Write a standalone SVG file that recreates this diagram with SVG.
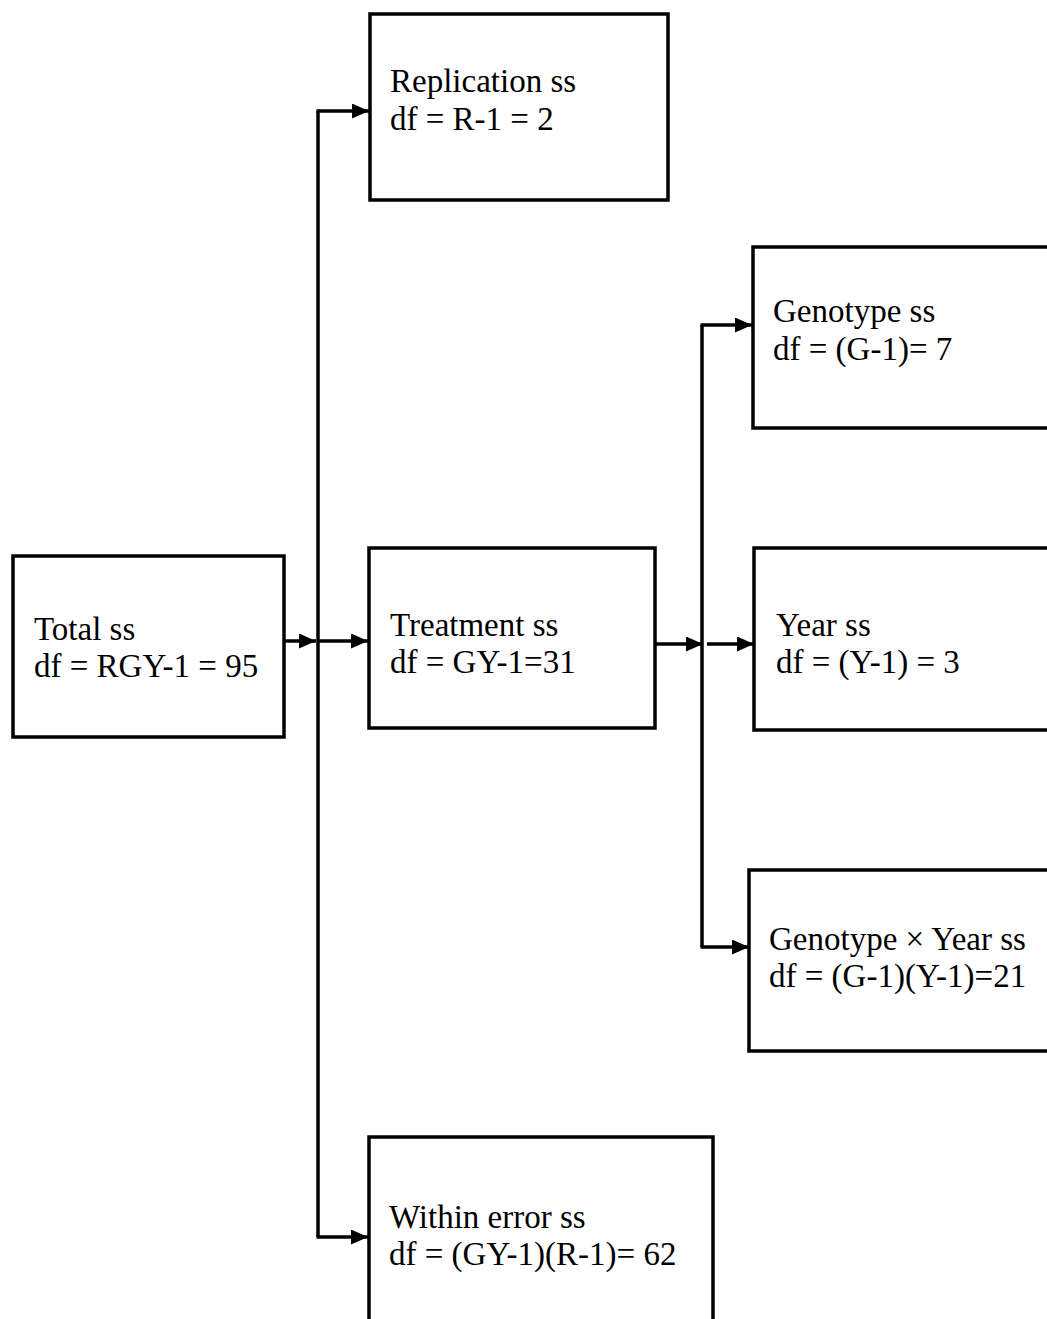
<svg xmlns="http://www.w3.org/2000/svg" width="1047" height="1319" viewBox="0 0 1047 1319">
<style>
.box{fill:#fff;stroke:#000;stroke-width:3.5}
.t{font-family:"Liberation Serif","Times New Roman",serif;font-size:33px;fill:#000}
.c{fill:none;stroke:#000;stroke-width:3.5}
</style>
<defs>
<marker id="ah" markerUnits="userSpaceOnUse" markerWidth="17" markerHeight="15" refX="17" refY="7.5" orient="auto">
<path d="M0,0 L17,7.5 L0,15 z" fill="#000"/>
</marker>
</defs>
<rect width="1047" height="1319" fill="#fff"/>
<g id="connectors">
<line class="c" x1="318" y1="111" x2="318" y2="1237"/>
<line class="c" x1="284" y1="641" x2="316" y2="641" marker-end="url(#ah)"/>
<line class="c" x1="316.5" y1="111" x2="369" y2="111" marker-end="url(#ah)"/>
<line class="c" x1="318" y1="641" x2="368" y2="641" marker-end="url(#ah)"/>
<line class="c" x1="316.5" y1="1237" x2="368" y2="1237" marker-end="url(#ah)"/>
<line class="c" x1="702" y1="325" x2="702" y2="947"/>
<line class="c" x1="655" y1="644" x2="703" y2="644" marker-end="url(#ah)"/>
<line class="c" x1="707" y1="644" x2="754" y2="644" marker-end="url(#ah)"/>
<line class="c" x1="700.5" y1="325" x2="752" y2="325" marker-end="url(#ah)"/>
<line class="c" x1="700.5" y1="947" x2="749" y2="947" marker-end="url(#ah)"/>
</g>
<g id="total">
<rect class="box" x="13" y="556" width="271" height="181"/>
<text class="t" x="34" y="640">Total ss</text>
<text class="t" x="34" y="677">df = RGY-1 = 95</text>
</g>
<g id="replication">
<rect class="box" x="370" y="14" width="298" height="186"/>
<text class="t" x="390" y="92">Replication ss</text>
<text class="t" x="390" y="130">df = R-1 = 2</text>
</g>
<g id="treatment">
<rect class="box" x="369" y="548" width="286" height="180"/>
<text class="t" x="390" y="636">Treatment ss</text>
<text class="t" x="390" y="673">df = GY-1=31</text>
</g>
<g id="within">
<rect class="box" x="369" y="1137" width="344" height="200"/>
<text class="t" x="389" y="1228">Within error ss</text>
<text class="t" x="389" y="1265">df = (GY-1)(R-1)= 62</text>
</g>
<g id="genotype">
<rect class="box" x="753" y="247" width="310" height="181"/>
<text class="t" x="773" y="322">Genotype ss</text>
<text class="t" x="773" y="360">df = (G-1)= 7</text>
</g>
<g id="year">
<rect class="box" x="754" y="548" width="310" height="182"/>
<text class="t" x="776" y="636">Year ss</text>
<text class="t" x="776" y="673">df = (Y-1) = 3</text>
</g>
<g id="gxy">
<rect class="box" x="749" y="870" width="315" height="181"/>
<text class="t" x="769" y="950">Genotype × Year ss</text>
<text class="t" x="769" y="987">df = (G-1)(Y-1)=21</text>
</g>
</svg>
